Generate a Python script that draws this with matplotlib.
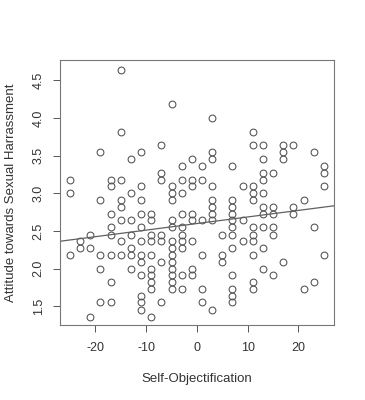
import matplotlib
matplotlib.use("Agg")
import matplotlib.pyplot as plt
import numpy as np

# self-objectification score (x) and attitude score (y), one row per x column
self_obj = [
    -25, -25, -25,
    -23, -23,
    -21, -21, -21,
    -19, -19, -19, -19, -19,
    -17, -17, -17, -17, -17, -17, -17, -17,
    -15, -15, -15, -15, -15, -15, -15, -15,
    -13, -13, -13, -13, -13, -13, -13,
    -11, -11, -11, -11, -11, -11, -11, -11, -11, -11, -11, -11,
    -9, -9, -9, -9, -9, -9, -9, -9, -9, -9,
    -7, -7, -7, -7, -7, -7, -7,
    -5, -5, -5, -5, -5, -5, -5, -5, -5, -5, -5, -5, -5, -5,
    -3, -3, -3, -3, -3, -3, -3, -3, -3, -3,
    -1, -1, -1, -1, -1, -1, -1, -1,
    1, 1, 1, 1, 1, 1,
    3, 3, 3, 3, 3, 3, 3, 3, 3,
    5, 5, 5,
    7, 7, 7, 7, 7, 7, 7, 7, 7, 7, 7, 7,
    9, 9, 9,
    11, 11, 11, 11, 11, 11, 11, 11, 11, 11, 11,
    13, 13, 13, 13, 13, 13, 13, 13, 13, 13,
    15, 15, 15, 15, 15, 15,
    17, 17, 17, 17,
    19, 19, 19,
    21, 21,
    23, 23, 23,
    25, 25, 25, 25,
]
attitude = [
    3.18, 3.00, 2.18,
    2.36, 2.27,
    2.45, 2.27, 1.36,
    3.55, 2.91, 2.18, 2.00, 1.55,
    3.18, 3.09, 2.73, 2.55, 2.45, 2.18, 1.82, 1.55,
    4.64, 3.82, 3.18, 2.91, 2.82, 2.64, 2.36, 2.18,
    3.45, 3.00, 2.64, 2.45, 2.27, 2.18, 2.00,
    3.55, 3.09, 2.91, 2.73, 2.55, 2.36, 2.18, 2.09, 1.91, 1.64, 1.55, 1.45,
    2.73, 2.64, 2.45, 2.36, 2.18, 2.00, 1.91, 1.82, 1.73, 1.36,
    3.64, 3.27, 3.18, 2.45, 2.36, 2.09, 1.55,
    4.18, 3.09, 3.00, 2.91, 2.64, 2.55, 2.36, 2.27, 2.18, 2.09, 2.00, 1.91, 1.82, 1.73,
    3.36, 3.18, 3.00, 2.73, 2.55, 2.45, 2.36, 2.27, 1.91, 1.73,
    3.45, 3.18, 3.09, 2.73, 2.64, 2.36, 2.00, 1.91,
    3.36, 3.18, 2.64, 2.18, 1.73, 1.55,
    4.00, 3.55, 3.45, 3.09, 2.91, 2.82, 2.73, 2.64, 1.45,
    2.45, 2.18, 2.09,
    3.36, 2.91, 2.82, 2.73, 2.64, 2.55, 2.45, 2.27, 1.91, 1.73, 1.64, 1.55,
    3.09, 2.64, 2.36,
    3.82, 3.64, 3.09, 3.00, 2.91, 2.55, 2.45, 2.36, 2.18, 1.82, 1.73,
    3.64, 3.45, 3.27, 3.18, 3.00, 2.82, 2.73, 2.55, 2.27, 2.00,
    3.27, 2.82, 2.73, 2.55, 2.45, 1.91,
    3.64, 3.55, 3.45, 2.09,
    3.64, 2.82, 2.73,
    2.91, 1.73,
    3.55, 2.55, 1.82,
    3.36, 3.27, 3.09, 2.18,
]
x_ticks = [-20, -10, 0, 10, 20]
y_ticks = [1.5, 2.0, 2.5, 3.0, 3.5, 4.0, 4.5]

plt.rcParams['font.family'] = ['Liberation Sans', 'DejaVu Sans']

fig = plt.figure(figsize=(3.65, 4.0), dpi=100)
ax = fig.add_axes([0.164, 0.1875, 0.751, 0.6625])

# open circles like R's default pch=1
ax.plot(self_obj, attitude, 'o', mfc='none', mec='#505050', mew=0.75, ms=4.9)

# least squares line, drawn across the whole panel like abline()
slope, intercept = np.polyfit(self_obj, attitude, 1)
ax.axline((0, intercept), slope=slope, color='#606060', lw=0.9)

ax.set_xlim(-27, 27)
ax.set_ylim(1.25, 4.77)
ax.set_xticks(x_ticks)
ax.set_yticks(y_ticks)
ax.set_xticklabels([str(t) for t in x_ticks])
ax.set_yticklabels(['%.1f' % t for t in y_ticks], rotation=90, va='center')
ax.tick_params(direction='out', length=5, width=0.7, colors='#555555',
               labelcolor='#333333', labelsize=9)
ax.tick_params(axis='x', pad=7)
ax.tick_params(axis='y', pad=6)
for s in ax.spines.values():
    s.set_color('#777777')
    s.set_linewidth(0.8)

ax.set_xlabel('Self-Objectification', fontsize=9.5, color='#333333', labelpad=14)
ax.set_ylabel('Attitude towards Sexual Harrassment', fontsize=9.5, color='#333333', labelpad=11)

fig.savefig('out.png', dpi=100)
